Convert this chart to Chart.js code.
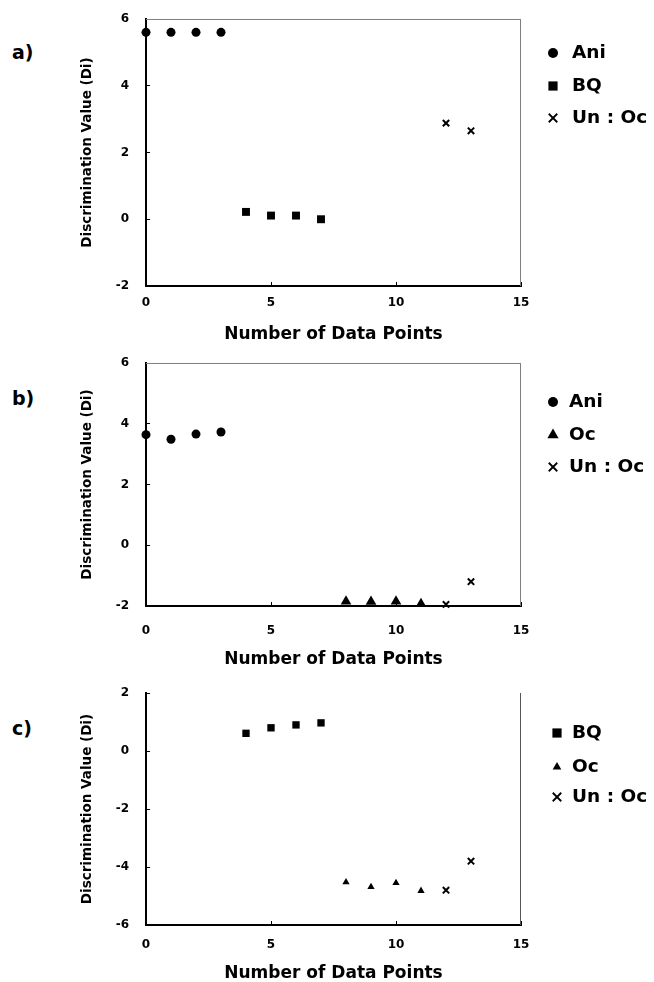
<!DOCTYPE html>
<html><head><meta charset="utf-8">
<script src="https://cdn.jsdelivr.net/npm/chart.js@4/dist/chart.umd.min.js"></script>
<style>
html,body{margin:0;padding:0;background:#fff}
body{width:654px;height:982px;position:relative;overflow:hidden}
.panel{position:absolute;left:0;width:654px}
.tag{position:absolute;left:12px;font:bold 19px "DejaVu Sans",sans-serif;line-height:19px;color:#000}
</style></head><body>
<div class="tag" style="top:43px">a)</div>
<div class="tag" style="top:389px">b)</div>
<div class="tag" style="top:719px">c)</div>
<div class="panel" style="top:0;height:345px"><canvas id="ca"></canvas></div>
<div class="panel" style="top:345px;height:325px"><canvas id="cb"></canvas></div>
<div class="panel" style="top:670px;height:314px"><canvas id="cc"></canvas></div>
<script>
// ---- data ----
const xTicks = [0, 5, 10, 15];
const xAniA = [0, 1, 2, 3];      const yAniA = [5.6, 5.6, 5.6, 5.6];
const xBQA  = [4, 5, 6, 7];      const yBQA  = [0.22, 0.11, 0.11, 0.0];
const xUnA  = [12, 13];          const yUnA  = [2.88, 2.65];

const xAniB = [0, 1, 2, 3];      const yAniB = [3.64, 3.49, 3.66, 3.73];
const xOcB  = [8, 9, 10, 11];    const yOcB  = [-1.85, -1.86, -1.85, -1.93];
const xUnB  = [12, 13];          const yUnB  = [-1.95, -1.2];

const xBQC  = [4, 5, 6, 7];      const yBQC  = [0.61, 0.80, 0.90, 0.97];
const xOcC  = [8, 9, 10, 11];    const yOcC  = [-4.52, -4.69, -4.55, -4.82];
const xUnC  = [12, 13];          const yUnC  = [-4.8, -3.8];

const pts = (xs, ys) => xs.map((x, i) => ({x: x, y: ys[i]}));
const FONT = '"DejaVu Sans", sans-serif';

const framePlugin = {
  id: 'frame',
  beforeDatasetsDraw(chart, args, opts) {
    const {left, top, right, bottom} = chart.chartArea;
    const ctx = chart.ctx;
    ctx.save();
    ctx.strokeStyle = opts.color || '#808080';
    ctx.lineWidth = 1;
    ctx.beginPath();
    if (opts.top) { ctx.moveTo(left, top + 0.5); ctx.lineTo(right, top + 0.5); }
    if (opts.right) { ctx.moveTo(right - 0.5, top); ctx.lineTo(right - 0.5, bottom); }
    ctx.stroke();
    ctx.restore();
  }
};

const legendPlugin = {
  id: 'sideLegend',
  afterDraw(chart, args, opts) {
    const ctx = chart.ctx;
    ctx.save();
    chart.data.datasets.forEach((ds, i) => {
      const y = opts.rows[i];
      ctx.fillStyle = '#000';
      ctx.strokeStyle = '#000';
      const st = ds.pointStyle;
      const bw = st === 'crossRot' ? 1.8 : 0;
      ctx.lineWidth = bw || 1;
      Chart.helpers.drawPoint(ctx, {pointStyle: st, radius: opts.radius[st], borderWidth: bw, rotation: 0}, opts.markerX, y);
      ctx.font = 'bold ' + opts.fontSize + 'px ' + FONT;
      ctx.textBaseline = 'middle';
      ctx.textAlign = 'left';
      ctx.fillText(ds.label, opts.textX, y);
    });
    ctx.restore();
  }
};

function ds(label, data, style, radius) {
  return {
    label: label, data: data, pointStyle: style, pointRadius: radius,
    pointHoverRadius: radius, showLine: false,
    backgroundColor: '#000', borderColor: '#000',
    pointBorderWidth: style === 'crossRot' ? 2 : 0, clip: false
  };
}

function makeChart(id, cfg) {
  new Chart(document.getElementById(id), {
    type: 'scatter',
    data: {datasets: cfg.datasets},
    options: {
      responsive: true, maintainAspectRatio: false, animation: false,
      events: [],
      layout: {padding: {left: 60, right: 654 - 521, top: cfg.top, bottom: 0}},
      plugins: {
        legend: {display: false}, tooltip: {enabled: false},
        frame: cfg.frame,
        sideLegend: cfg.legend
      },
      scales: {
        x: {
          type: 'linear', min: 0, max: 15,
          afterBuildTicks: (s) => { s.ticks = xTicks.map(v => ({value: v})); },
          afterFit: (s) => { s.height = cfg.xHeight; },
          grid: {drawOnChartArea: false, drawTicks: true, tickLength: -4, color: '#000', lineWidth: 1},
          border: {display: true, color: '#000', width: 2},
          ticks: {color: '#000', padding: cfg.xPad, font: {family: FONT, size: 12, weight: 'bold'}},
          title: {display: true, text: 'Number of Data Points', color: '#000',
                  font: {family: FONT, size: 17, weight: 'bold', lineHeight: 1},
                  padding: {top: 0, bottom: cfg.titlePad}}
        },
        y: {
          type: 'linear', min: cfg.yMin, max: cfg.yMax,
          afterBuildTicks: (s) => { s.ticks = cfg.yTicks.map(v => ({value: v})); },
          afterFit: (s) => { s.width = 86; s.paddingTop = 0; s.paddingBottom = 0; },
          grid: {drawOnChartArea: false, drawTicks: true, tickLength: -4, color: '#000', lineWidth: 1},
          border: {display: true, color: '#000', width: 2},
          ticks: {color: '#000', padding: 21, font: {family: FONT, size: 12, weight: 'bold'}},
          title: {display: true, text: 'Discrimination Value (Di)', color: '#000',
                  font: {family: FONT, size: 13.5, weight: 'bold', lineHeight: 1.2},
                  padding: {top: 19, bottom: 0}}
        }
      }
    },
    plugins: [framePlugin, legendPlugin]
  });
}

const yTicksAB = [-2, 0, 2, 4, 6];
const yTicksC = [-6, -4, -2, 0, 2];
const legRadius = {circle: 5, rect: 6.5, triangle: 6.5, crossRot: 6};

makeChart('ca', {
  top: 19, xHeight: 345 - 286, xPad: 14, titlePad: 1.5,
  yMin: -2, yMax: 6, yTicks: yTicksAB,
  frame: {top: true, right: true, color: '#808080'},
  legend: {markerX: 553, textX: 572, rows: [53, 86, 118], fontSize: 18.5, radius: legRadius},
  datasets: [
    ds('Ani', pts(xAniA, yAniA), 'circle', 4.5),
    ds('BQ', pts(xBQA, yBQA), 'rect', 5.6),
    ds('Un : Oc', pts(xUnA, yUnA), 'crossRot', 4.5)
  ]
});

makeChart('cb', {
  top: 18, xHeight: 325 - 261, xPad: 22, titlePad: 1.5,
  yMin: -2, yMax: 6, yTicks: yTicksAB,
  frame: {top: true, right: true, color: '#808080'},
  legend: {markerX: 553, textX: 569, rows: [57, 90, 122], fontSize: 18.5, radius: legRadius},
  datasets: [
    ds('Ani', pts(xAniB, yAniB), 'circle', 4.5),
    ds('Oc', pts(xOcB, yOcB), 'triangle', 6.2),
    ds('Un : Oc', pts(xUnB, yUnB), 'crossRot', 4.5)
  ]
});

makeChart('cc', {
  top: 23, xHeight: 314 - 255, xPad: 17, titlePad: 1.5,
  yMin: -6, yMax: 2, yTicks: yTicksC,
  frame: {top: false, right: true, color: '#555'},
  legend: {markerX: 557, textX: 572, rows: [63, 97, 127], fontSize: 18.5, radius: {circle: 5, rect: 6.5, triangle: 5, crossRot: 6}},
  datasets: [
    ds('BQ', pts(xBQC, yBQC), 'rect', 5.2),
    ds('Oc', pts(xOcC, yOcC), 'triangle', 4.2),
    ds('Un : Oc', pts(xUnC, yUnC), 'crossRot', 4.5)
  ]
});
</script>
</body></html>
